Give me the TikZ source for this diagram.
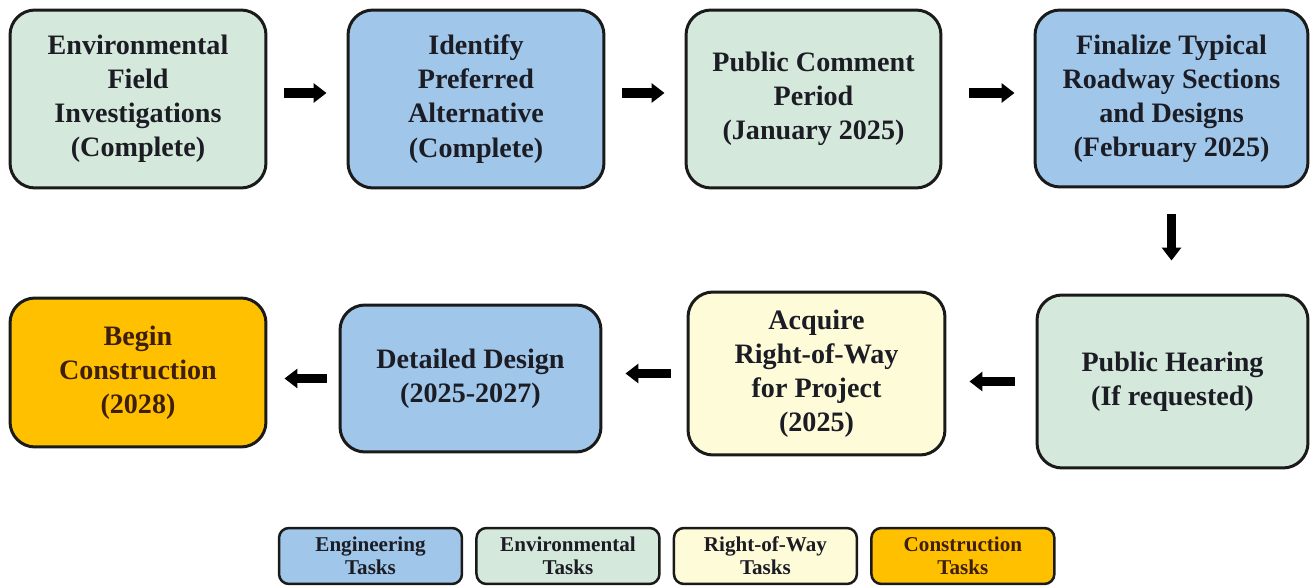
\documentclass[tikz,border=0pt]{standalone}
\usepackage{fontspec}
\setmainfont{Liberation Serif}
\usetikzlibrary{arrows.meta}
\usetikzlibrary{positioning}
\definecolor{engblue}{RGB}{160,198,234}
\definecolor{envgreen}{RGB}{213,232,220}
\definecolor{rowyellow}{RGB}{254,252,216}
\definecolor{conorange}{RGB}{255,192,0}
\definecolor{boxline}{RGB}{26,26,26}
\definecolor{textdark}{RGB}{28,28,36}
\definecolor{textbrown}{RGB}{62,30,12}
\tikzset{
	every node/.style={align=center},
	%
	block/.style={
		rounded corners=0.5cm, draw=boxline, line width=0.06cm, inner sep=4pt,
		text=textdark, font=\bfseries\fontsize{16}{19.4}\selectfont},
	key/.style={
		rounded corners=0.2cm, draw=boxline, line width=0.05cm,
		minimum width=3.66cm, minimum height=1.12cm, inner sep=1pt,
		text=textdark, font=\bfseries\fontsize{12}{13}\selectfont},
	engineering/.style={fill=engblue},
	environmental/.style={fill=envgreen},
	right-of-way/.style={fill=rowyellow},
	construction/.style={fill=conorange, text=textbrown},
	%
	flow/.style={-{Triangle[length=0.26cm, width=0.38cm]}, line width=0.19cm,
		shorten <=0.34cm, shorten >=0.4cm},
}

\begin{document}
\begin{tikzpicture}[x=0.02cm, y=-0.02cm]
	\useasboundingbox (0,0) rectangle (1312,587);
	%
	\node (field-inv) [block, environmental, minimum width=5.12cm, minimum height=3.56cm]
		at (138,99) {Environmental\\Field\\Investigations\\(Complete)};
	\node (preferred-alt) [block, engineering, minimum width=5.12cm, minimum height=3.56cm]
		at (476,99) {Identify\\Preferred\\Alternative\\(Complete)};
	\node (comment-period) [block, environmental, minimum width=5.1cm, minimum height=3.56cm]
		at (813.5,99) {Public Comment\\Period\\(January 2025)};
	\node (final-design) [block, engineering, minimum width=5.46cm, minimum height=3.54cm]
		at (1171.5,98.5) {Finalize Typical\\Roadway Sections\\and Designs\\(February 2025)};
	%
	\node (hearing) [block, environmental, minimum width=5.42cm, minimum height=3.46cm]
		at (1172.5,381.5) {Public Hearing\\(If requested)};
	\node (acquire-row) [block, right-of-way, minimum width=5.14cm, minimum height=3.26cm]
		at (816.5,373.5) {Acquire\\Right-of-Way\\for Project\\(2025)};
	\node (detailed-design) [block, engineering, minimum width=5.22cm, minimum height=2.94cm]
		at (470.5,378.5) {Detailed Design\\(2025-2027)};
	\node (construction) [block, construction, minimum width=5.12cm, minimum height=2.98cm]
		at (138,372.5) {Begin\\Construction\\(2028)};
	%
	\draw [flow] ([yshift=0.12cm]field-inv.east) -- ([yshift=0.12cm]field-inv.east -| preferred-alt.west);
	\draw [flow] ([yshift=0.12cm]preferred-alt.east) -- ([yshift=0.12cm]preferred-alt.east -| comment-period.west);
	\draw [flow, shorten <=0.54cm, shorten >=0.38cm]
		([yshift=0.12cm]comment-period.east) -- ([yshift=0.12cm]comment-period.east -| final-design.west);
	\draw [flow, shorten <=0.52cm, shorten >=0.66cm]
		(final-design.south) -- (final-design.south |- hearing.north);
	\draw [flow, shorten <=0.42cm, shorten >=0.46cm]
		(hearing.west) -- (hearing.west -| acquire-row.east);
	\draw [flow, shorten <=0.32cm, shorten >=0.46cm]
		(acquire-row.west) -- (acquire-row.west -| detailed-design.east);
	\draw [flow, shorten <=0.24cm, shorten >=0.34cm]
		(detailed-design.west) -- (detailed-design.west -| construction.east);
	%
	\node (key-eng) [key, engineering] at (370.5,556) {Engineering\\Tasks};
	\node (key-env) [key, environmental, right=0.24cm of key-eng] {Environmental\\Tasks};
	\node (key-row) [key, right-of-way, right=0.24cm of key-env] {Right-of-Way\\Tasks};
	\node (key-con) [key, construction, right=0.24cm of key-row] {Construction\\Tasks};
\end{tikzpicture}
\end{document}
